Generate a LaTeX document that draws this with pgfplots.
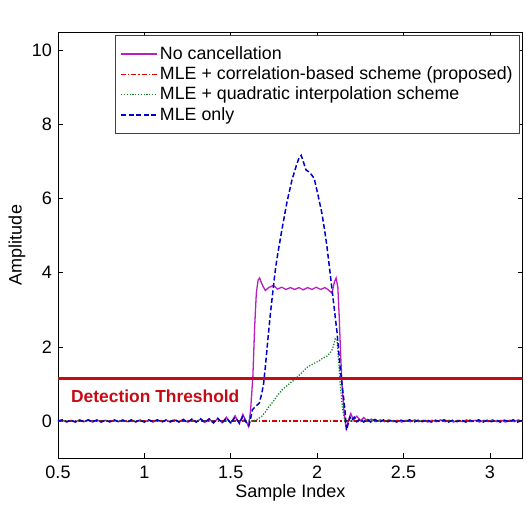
\documentclass[border=0pt]{standalone}
\usepackage{pgfplots}
\pgfplotsset{compat=1.18}
\usepackage{fontspec}
\setmainfont{Liberation Sans}
\definecolor{magc}{RGB}{185,30,190}
\definecolor{redc}{RGB}{215,0,0}
\definecolor{grnc}{RGB}{20,130,40}
\definecolor{bluc}{RGB}{0,0,205}
\definecolor{thrc}{RGB}{200,10,20}
\begin{document}
\fontsize{18}{21}\selectfont
\begin{tikzpicture}
\begin{axis}[
  scale only axis, width=464.7pt, height=426pt,
  xmin=0.5, xmax=3.19, ymin=-1, ymax=10.5,
  xtick={0.5,1,1.5,2,2.5,3}, ytick={0,2,4,6,8,10},
  tick align=inside, major tick length=5pt,
  axis line style={line width=0.8pt}, tick style={line width=0.6pt, black},
  /pgf/number format/assume math mode=true,
  tick label style={font=\fontsize{18}{20}\selectfont},
  xticklabel style={anchor=base, yshift=-21pt},
  xlabel={Sample Index}, ylabel={Amplitude},
  label style={font=\fontsize{18}{20}\selectfont},
  xlabel style={at={(axis description cs:0.5,0)}, anchor=base, yshift=-40pt},
  ylabel style={at={(axis description cs:0,0.5)}, anchor=center, yshift=41pt},
  legend cell align=left,
  legend image code/.code={\draw[#1] (0pt,0pt) -- (36pt,0pt);},
  legend style={at={(1,1)}, anchor=north east, xshift=-2.7pt, yshift=-3pt,
    font=\fontsize{17.8}{20}\selectfont, draw=black!75, line width=0.6pt,
    inner xsep=5pt, inner ysep=9pt, row sep=0.7pt},
]
\addplot[magc, line width=1.3pt] coordinates {
(0.500,-0.01)(0.525,0.02)(0.550,-0.03)(0.575,0.02)(0.600,-0.02)(0.625,0.03)(0.650,-0.02)(0.675,0.02)
(0.700,-0.03)(0.725,0.03)(0.750,-0.02)(0.775,0.02)(0.800,-0.03)(0.825,0.02)(0.850,-0.02)(0.875,0.03)
(0.900,-0.02)(0.925,0.02)(0.950,-0.03)(0.975,0.03)(1.000,-0.02)(1.025,0.02)(1.050,-0.03)(1.075,0.02)
(1.100,-0.02)(1.125,0.03)(1.150,-0.03)(1.175,0.03)(1.200,-0.02)(1.225,0.04)(1.250,-0.03)(1.275,0.04)
(1.300,-0.03)(1.325,0.05)(1.350,-0.04)(1.375,0.06)(1.400,-0.05)(1.425,0.07)(1.450,-0.05)(1.475,0.10)
(1.500,-0.06)(1.525,0.14)(1.550,-0.07)(1.570,0.18)(1.590,-0.02)(1.603,-0.15)(1.615,0.30)(1.628,1.20)
(1.638,2.50)(1.648,3.45)(1.658,3.80)(1.667,3.86)(1.680,3.70)(1.700,3.52)(1.720,3.60)(1.747,3.66)
(1.770,3.56)(1.795,3.61)(1.820,3.55)(1.845,3.60)(1.870,3.55)(1.895,3.60)(1.920,3.54)(1.945,3.60)
(1.970,3.55)(1.995,3.61)(2.020,3.55)(2.045,3.60)(2.065,3.54)(2.086,3.45)(2.100,3.75)(2.110,3.86)
(2.120,3.60)(2.128,2.80)(2.136,1.80)(2.145,0.90)(2.155,0.30)(2.163,-0.05)(2.170,-0.20)(2.180,0.00)
(2.195,0.20)(2.210,0.03)(2.230,0.13)(2.250,0.00)(2.270,0.09)(2.290,0.00)(2.315,0.05)(2.340,-0.02)
(2.365,0.03)(2.390,-0.02)(2.415,0.03)(2.440,-0.02)(2.465,0.02)(2.490,-0.03)(2.515,0.02)(2.540,-0.02)
(2.565,0.03)(2.590,-0.02)(2.615,0.02)(2.640,-0.03)(2.665,0.02)(2.690,-0.02)(2.715,0.03)(2.740,-0.02)
(2.765,0.02)(2.790,-0.03)(2.815,0.02)(2.840,-0.02)(2.865,0.03)(2.890,-0.02)(2.915,0.02)(2.940,-0.03)
(2.965,0.02)(2.990,-0.02)(3.015,0.03)(3.040,-0.02)(3.065,0.02)(3.090,-0.03)(3.115,0.02)(3.140,-0.02)
(3.165,0.03)(3.190,-0.02)
};
\addlegendentry{No cancellation}
\addplot[redc, line width=1.1pt, dash pattern=on 5pt off 2pt on 1.2pt off 2pt] coordinates {
(0.5,0)(1.0,0)(1.5,0)(2.0,0)(2.5,0)(3.0,0)(3.2,0)
};
\addlegendentry{MLE + correlation-based scheme (proposed)}
\addplot[grnc, line width=1.3pt, dash pattern=on 1.2pt off 1.6pt] coordinates {
(0.5,0)(1.0,0)(1.5,0)(1.62,0)(1.64,0.02)(1.66,0.06)(1.68,0.13)(1.70,0.24)(1.72,0.38)(1.745,0.52)
(1.767,0.67)(1.80,0.85)(1.83,0.97)(1.86,1.08)(1.902,1.26)(1.94,1.44)(1.98,1.55)(2.01,1.62)(2.028,1.68)
(2.057,1.75)(2.076,1.84)(2.09,1.95)(2.105,2.22)(2.115,2.20)(2.125,1.60)(2.135,0.90)(2.148,0.30)(2.16,0)
(2.5,0)(3.2,0)
};
\addlegendentry{MLE + quadratic interpolation scheme}
\addplot[bluc, line width=1.5pt, dash pattern=on 5pt off 2.5pt] coordinates {
(0.500,0.00)(0.525,0.03)(0.550,-0.02)(0.575,0.02)(0.600,-0.03)(0.625,0.02)(0.650,-0.02)(0.675,0.03)
(0.700,-0.02)(0.725,0.02)(0.750,-0.03)(0.775,0.02)(0.800,-0.02)(0.825,0.03)(0.850,-0.02)(0.875,0.02)
(0.900,-0.03)(0.925,0.03)(0.950,-0.02)(0.975,0.02)(1.000,-0.03)(1.025,0.03)(1.050,-0.02)(1.075,0.03)
(1.100,-0.03)(1.125,0.02)(1.150,-0.02)(1.175,0.04)(1.200,-0.03)(1.225,0.04)(1.250,-0.04)(1.275,0.05)
(1.300,-0.03)(1.325,0.06)(1.350,-0.04)(1.375,0.05)(1.400,-0.05)(1.425,0.07)(1.450,-0.05)(1.475,0.08)
(1.500,-0.06)(1.525,0.10)(1.550,-0.06)(1.570,0.12)(1.590,-0.04)(1.605,-0.12)(1.612,0.00)(1.625,0.30)
(1.645,0.40)(1.665,0.48)(1.680,0.75)(1.690,1.00)(1.700,1.45)(1.715,2.20)(1.728,2.83)(1.745,3.55)
(1.760,4.15)(1.776,4.62)(1.796,5.16)(1.825,5.90)(1.854,6.50)(1.880,6.90)(1.895,7.10)(1.908,7.17)
(1.920,7.00)(1.935,6.78)(1.950,6.73)(1.965,6.66)(1.983,6.55)(2.005,6.10)(2.028,5.60)(2.045,5.10)
(2.057,4.70)(2.070,4.20)(2.085,3.60)(2.100,3.00)(2.115,2.40)(2.124,1.93)(2.134,1.40)(2.144,1.00)
(2.155,0.55)(2.163,0.20)(2.170,-0.25)(2.178,-0.10)(2.190,0.10)(2.200,0.02)(2.215,0.10)(2.230,-0.02)
(2.250,0.06)(2.270,-0.03)(2.290,0.05)(2.310,-0.03)(2.335,0.04)(2.360,-0.03)(2.385,0.03)(2.410,-0.02)
(2.435,0.03)(2.460,-0.03)(2.485,0.02)(2.510,-0.02)(2.535,0.03)(2.560,-0.03)(2.585,0.02)(2.610,-0.02)
(2.635,0.03)(2.660,-0.03)(2.685,0.02)(2.710,-0.02)(2.735,0.03)(2.760,-0.03)(2.785,0.02)(2.810,-0.02)
(2.835,0.03)(2.860,-0.03)(2.885,0.02)(2.910,-0.02)(2.935,0.03)(2.960,-0.03)(2.985,0.02)(3.010,-0.02)
(3.035,0.03)(3.060,-0.03)(3.085,0.02)(3.110,-0.02)(3.135,0.03)(3.160,-0.03)(3.190,0.02)
};
\addlegendentry{MLE only}
\addplot[thrc, line width=2.6pt, forget plot] coordinates {(0.5,1.15)(3.19,1.15)};
\node[anchor=base west, inner sep=0pt, text=thrc, font=\bfseries\fontsize{17.4}{20}\selectfont]
  at (axis cs:0.575,0.51) {Detection Threshold};
\node[anchor=base west, inner sep=0pt, font=\fontsize{18}{20}\selectfont]
  at ([yshift=6pt]rel axis cs:0,1) {x 10\textsuperscript{-9}};
\node[anchor=base east, inner sep=0pt, font=\fontsize{17.5}{20}\selectfont]
  at ([xshift=2.3pt,yshift=-45pt]rel axis cs:1,0) {x 10\textsuperscript{4}};
\coordinate (SW) at (rel axis cs:0,0);
\coordinate (NE) at (rel axis cs:1,1);
\end{axis}
\pgfresetboundingbox
\path ([xshift=-58pt,yshift=-52pt]SW) rectangle ([xshift=4.3pt,yshift=32pt]NE);
\end{tikzpicture}
\end{document}
